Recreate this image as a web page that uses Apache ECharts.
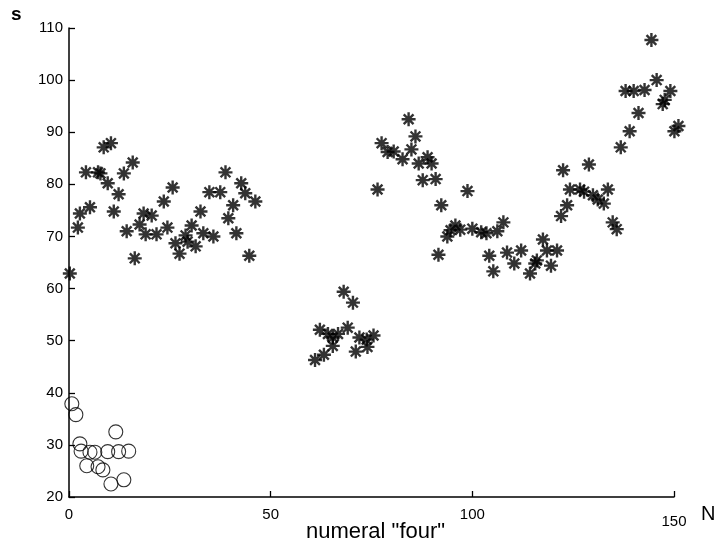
<!DOCTYPE html>
<html>
<head>
<meta charset="utf-8">
<script src="https://cdn.jsdelivr.net/npm/echarts@6/dist/echarts.min.js"></script>
<style>
  html, body { margin: 0; padding: 0; background: #fff; }
  #chart { width: 719px; height: 553px; }
</style>
</head>
<body>
<div id="chart"></div>
<script>
// tick values
var xTicks = [0, 50, 100, 150];
var yTicks = [20, 30, 40, 50, 60, 70, 80, 90, 100, 110];

// circles (lower-left group)
var circleN = [0.7, 1.7, 2.7, 3.0, 4.4, 5.2, 6.4, 7.2, 8.4, 9.6, 10.4, 11.6, 12.3, 13.6, 14.8];
var circleS = [37.9, 35.8, 30.2, 28.8, 26.0, 28.6, 28.6, 25.8, 25.2, 28.7, 22.5, 32.5, 28.7, 23.3, 28.8];

// asterisks
var starN = [
  0.2, 2.2, 2.7, 5.2, 4.2, 7.2, 7.8, 8.6, 10.4, 9.6, 12.3, 11.1, 13.6, 15.8, 14.3, 16.3,
  17.5, 18.5, 19.0, 20.5, 21.7, 24.4, 23.5, 25.7, 26.4, 27.4, 28.9, 29.4, 30.4, 31.4,
  32.6, 33.3, 35.8, 34.8, 37.5, 38.8, 40.7, 39.5, 41.5, 42.7, 43.7, 46.2, 44.7,
  68.1, 70.4, 62.2, 64.2, 65.4, 66.7, 65.4, 69.1, 72.0, 73.8, 75.5, 74.0, 71.1, 63.2, 61.0,
  84.2, 85.9, 77.5, 79.0, 80.5, 82.7, 84.9, 86.7, 88.9, 89.9, 87.7, 90.9, 76.5, 98.8,
  92.3, 95.8, 93.8, 94.6, 97.0, 100.0, 102.2, 103.5, 106.2, 107.7, 91.6, 104.2, 105.2,
  108.6, 110.4, 112.1, 114.3, 115.6,
  144.4, 145.7, 138.0, 140.0, 142.7, 149.1, 147.7, 147.2, 141.2, 139.0, 151.1, 150.1,
  136.8, 128.9, 122.5, 124.2, 126.7, 127.7, 129.9, 131.1, 132.6, 133.6, 123.5, 122.0,
  134.8, 135.8, 117.5, 118.5, 121.0, 116.0, 119.5
];
var starS = [
  62.9, 71.7, 74.4, 75.6, 82.3, 82.3, 82.1, 87.1, 87.9, 80.2, 78.1, 74.8, 82.1, 84.2, 71.0, 65.8,
  72.3, 74.4, 70.4, 74.0, 70.4, 71.7, 76.7, 79.4, 68.7, 66.7, 70.2, 69.0, 72.1, 68.1,
  74.8, 70.6, 70.0, 78.5, 78.5, 82.3, 76.0, 73.5, 70.6, 80.2, 78.3, 76.7, 66.3,
  59.4, 57.3, 52.1, 51.3, 50.6, 51.3, 49.0, 52.5, 50.6, 50.2, 51.0, 48.8, 47.9, 47.3, 46.3,
  92.5, 89.2, 87.9, 86.2, 86.3, 84.8, 86.7, 84.0, 85.2, 84.0, 80.8, 81.0, 79.0, 78.7,
  76.0, 72.1, 70.0, 71.2, 71.3, 71.5, 70.8, 70.6, 71.0, 72.7, 66.5, 66.3, 63.3,
  66.9, 64.8, 67.3, 62.9, 64.8,
  107.7, 100.0, 97.9, 97.9, 98.1, 97.9, 96.2, 95.4, 93.7, 90.2, 91.2, 90.2,
  87.1, 83.8, 82.7, 79.0, 79.0, 78.6, 77.9, 77.1, 76.3, 79.0, 76.0, 73.9,
  72.7, 71.4, 69.4, 67.3, 67.3, 65.4, 64.4
];

var circleData = circleN.map(function (n, i) { return [n, circleS[i]]; });
var starData = starN.map(function (n, i) { return [n, starS[i]]; });

// asterisk made of four strokes
var starPath = 'path://M10 0 L10 20 M0 10 L20 10 M3 3 L17 17 M17 3 L3 17';

var font = 'Liberation Sans, Arial, sans-serif';
var chart = echarts.init(document.getElementById('chart'));

var option = {
  animation: false,
  grid: { left: 69, right: 45, top: 28, bottom: 56 },
  xAxis: {
    type: 'value',
    min: xTicks[0],
    max: xTicks[xTicks.length - 1],
    interval: 50,
    splitLine: { show: false },
    axisLine: { lineStyle: { color: '#000', width: 1.5 } },
    axisTick: { inside: true, length: 6, lineStyle: { color: '#000', width: 1.3 } },
    axisLabel: {
      color: '#000', fontFamily: font, fontSize: 15, margin: 10,
      formatter: function (v) { return v === 150 ? '{low|150}' : String(v); },
      rich: { low: { fontFamily: font, fontSize: 15, color: '#000', padding: [7, 0, 0, 0] } }
    }
  },
  yAxis: {
    type: 'value',
    min: yTicks[0],
    max: yTicks[yTicks.length - 1],
    interval: 10,
    splitLine: { show: false },
    axisLine: { show: true, lineStyle: { color: '#000', width: 1.5 } },
    axisTick: { show: true, inside: true, length: 6, lineStyle: { color: '#000', width: 1.3 } },
    axisLabel: { color: '#000', fontFamily: font, fontSize: 15, margin: 6 }
  },
  graphic: [
    { type: 'text', left: 11, top: 5, style: { text: 's', font: 'bold 19px ' + font, fill: '#000' } },
    { type: 'text', left: 701, top: 504, style: { text: 'N', font: '20px ' + font, fill: '#000' } },
    { type: 'text', left: 306, top: 521, style: { text: 'numeral "four"', font: '22px ' + font, fill: '#000' } }
  ],
  series: [
    {
      type: 'scatter',
      data: circleData,
      symbol: 'circle',
      symbolSize: 14,
      clip: false,
      itemStyle: { color: 'rgba(255,255,255,0)', borderColor: '#000', borderWidth: 1.1 }
    },
    {
      type: 'scatter',
      data: starData,
      symbol: starPath,
      symbolSize: 14,
      clip: false,
      itemStyle: { color: 'rgba(0,0,0,0)', borderColor: '#000', borderWidth: 2.4 }
    }
  ]
};
chart.setOption(option);
</script>
</body>
</html>
